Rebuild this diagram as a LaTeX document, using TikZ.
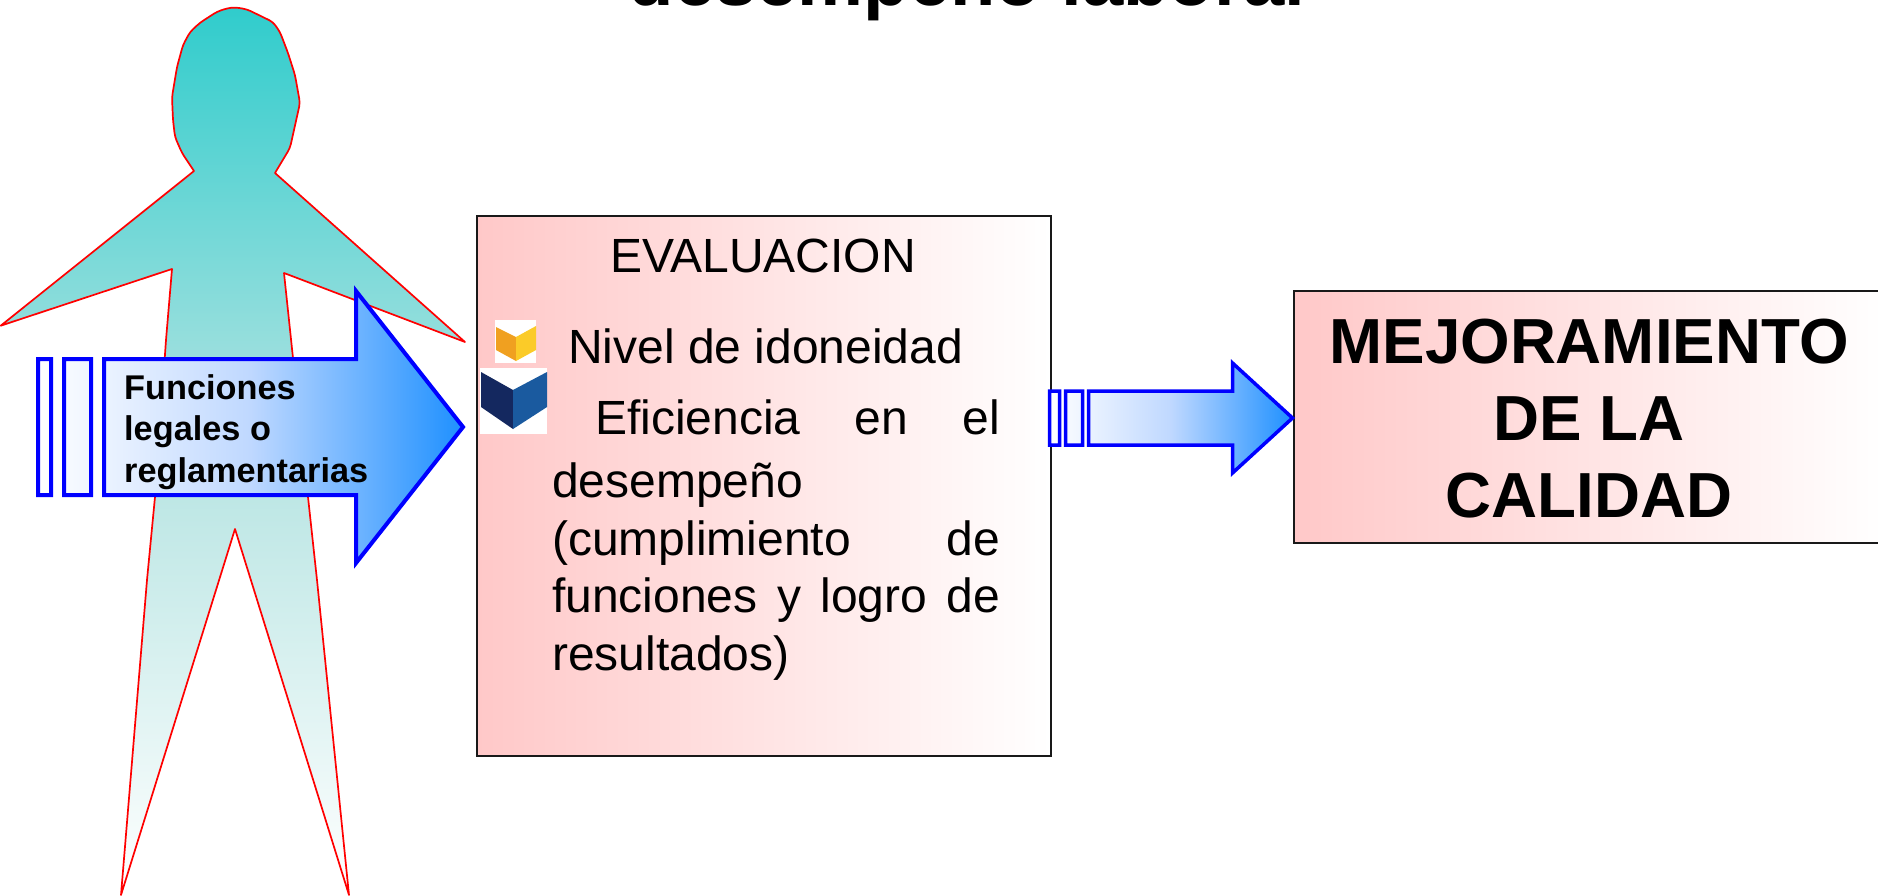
\documentclass[tikz,border=0pt]{standalone}
\usepackage{fontspec}
\setmainfont{Liberation Sans}
\definecolor{figteal}{HTML}{30CCCC}
\definecolor{figmid}{HTML}{B6E4E2}
\definecolor{panelpink}{HTML}{FFC8C8}
\definecolor{arrowblue}{HTML}{1E90FF}
\definecolor{arrowmid}{HTML}{BFD8FF}
\definecolor{amberL}{HTML}{F0A020}
\definecolor{amberR}{HTML}{FBCB28}
\definecolor{navyL}{HTML}{14285F}
\definecolor{navyR}{HTML}{1A5A9F}
\tikzset{
  x=1pt, y=-1pt,
  figure/.style={draw=red, line width=1.7pt, line join=round, top color=figteal, bottom color=white, middle color=figmid},
  panel/.style={draw=black!90, line width=2pt, left color=panelpink, right color=white, inner sep=0pt, anchor=north west},
  blockarrow/.style={draw=blue, line join=miter, left color=white, right color=arrowblue, middle color=arrowmid},
  label/.style={inner sep=0pt, text=black},
  body/.style={label, font=\fontsize{48}{57.6}\selectfont},
  strong/.style={label, font=\fontsize{63.7}{76.7}\selectfont\bfseries},
  tag/.style={label, font=\fontsize{34.3}{41.5}\selectfont\bfseries},
}
\begin{document}
\begin{tikzpicture}
\useasboundingbox (0,0) rectangle (1878,895);
\clip (0,0) rectangle (1878,895);
\fill[white] (0,0) rectangle (1878,895);

% Heading, cut by the top edge of the slide
\node[label, anchor=base, font=\fontsize{74.2}{80}\selectfont\bfseries] (heading) at (967,5) {desempeño laboral};

% Human silhouette: softly rounded head, sharp limbs
\path[figure] [rounded corners=4pt] (275,173) -- (290,148) -- (300,103) -- (295,75) -- (288,53) -- (280,32) -- (273,22) -- (247,9.3) -- (235,7.3)
  -- (227,8.3) -- (217,11.7) -- (200,22.7) -- (190,32) -- (183,45) -- (177,67) -- (172,97) -- (173,120) -- (175,137) -- (182,153) [sharp corners] -- (194,171)
  -- (0.7,325.7) -- (172,269) -- (166,340) -- (155,497) -- (147,580) -- (121,895)
  -- (235,529) -- (349,895) -- (317,580) -- (308,497) -- (293,358) -- (284,273) -- (465,342) -- cycle;

% Striped arrow over the silhouette
\path[blockarrow, line width=4pt]
  (38,359) rectangle (51,495)
  (64,359) rectangle (91,495)
  (104,359) -- (356,359) -- (356,291) -- (463,427) -- (356,563) -- (356,495) -- (104,495) -- cycle;
\node[tag, anchor=north west, align=left] (funciones) at (124,374) {Funciones\\legales o\\reglamentarias};

% Evaluation panel
\node[panel, minimum width=574pt, minimum height=540pt] (evaluacion) at (475.5,215) {};
\node[body, anchor=base] (evaltitle) at (763,272) {EVALUACION};

% Cube bullets
\fill[white] (495,320) rectangle (536,363);
\fill[amberL] (496,327) -- (516,337) -- (516,361) -- (496,350) -- cycle;
\fill[amberR] (516,337) -- (536,326) -- (536,350) -- (516,361) -- cycle;
\fill[white] (480,368) rectangle (547,434);
\fill[navyL] (481,372) -- (513,390) -- (513,429) -- (481,407) -- cycle;
\fill[navyR] (513,390) -- (547,372) -- (547,407) -- (513,429) -- cycle;

\node[body, anchor=base west] (nivel) at (568,363) {Nivel de idoneidad};
\node[body, anchor=north west, text width=448pt, align=left] (eficiencia) at (552,400)
  {\hspace*{43pt}Eficiencia \hfill en \hfill el\\[5pt]
   desempeño\\
   (cumplimiento \hfill de\\
   funciones \hfill y \hfill logro \hfill de\\
   resultados)};

% Result panel
\node[panel, minimum width=590pt, minimum height=252pt] (mejora) at (1292.5,290) {};
\node[strong, anchor=north, align=center] (mejoratxt) at (1589,319) {MEJORAMIENTO\\DE LA\\CALIDAD};

% Striped arrow between the panels, its tip on the result panel
\path[blockarrow, line width=3.5pt, shift={(mejora.west)}]
  (-243,-26) rectangle (-233,28)
  (-227,-26) rectangle (-210,28)
  (-204,-26) -- (-60,-26) -- (-60,-54) -- (0,1) -- (-60,56) -- (-60,28) -- (-204,28) -- cycle;
\end{tikzpicture}
\end{document}
